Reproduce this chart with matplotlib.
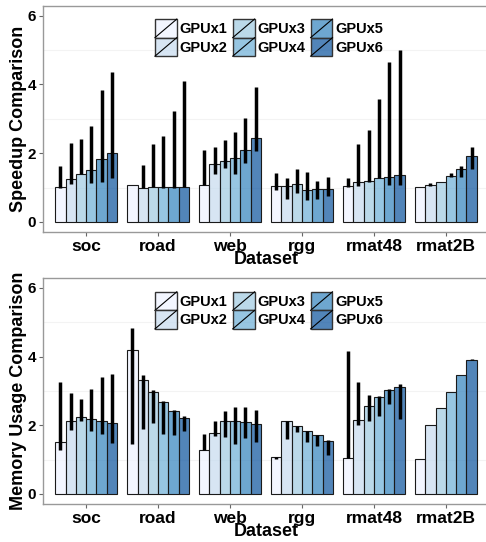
import matplotlib
matplotlib.use("Agg")
import matplotlib.pyplot as plt
import matplotlib.colors as mcolors
import numpy as np
from matplotlib.legend_handler import HandlerBase
from matplotlib.patches import Rectangle
from matplotlib.lines import Line2D

plt.rcParams['font.family'] = ['Liberation Sans', 'DejaVu Sans']
plt.rcParams['font.weight'] = 'bold'

datasets = ["soc", "road", "web", "rgg", "rmat48", "rmat2B"]
gpus = ["GPUx1", "GPUx2", "GPUx3", "GPUx4", "GPUx5", "GPUx6"]
# Blues, 6 classes (ggplot brewer), drawn with alpha 0.7
palette = ["#EFF3FF", "#C6DBEF", "#9ECAE1", "#6BAED6", "#3182BD", "#08519C"]

# speedup: rows = dataset, cols = gpu count
speedup = [
    [1.02, 1.24, 1.40, 1.50, 1.83, 2.02],
    [1.08, 1.00, 1.02, 1.01, 1.02, 1.02],
    [1.07, 1.68, 1.77, 1.85, 2.09, 2.43],
    [1.06, 1.06, 1.11, 0.93, 0.95, 0.97],
    [1.04, 1.17, 1.18, 1.27, 1.30, 1.38],
    [1.01, 1.09, 1.17, 1.34, 1.54, 1.91],
]
speedup_lo = [
    [1.00, 1.10, 1.39, 1.14, 1.15, 1.27],
    [1.08, 0.98, 1.02, 0.98, 0.98, 1.02],
    [1.07, 1.41, 1.56, 1.41, 1.71, 2.05],
    [0.93, 0.68, 0.83, 0.65, 0.66, 0.75],
    [1.02, 1.06, 1.17, 1.27, 1.07, 1.07],
    [1.01, 1.06, 1.17, 1.32, 1.32, 1.53],
]
speedup_hi = [
    [1.63, 2.29, 2.41, 2.78, 3.85, 4.36],
    [1.08, 1.66, 2.26, 2.49, 3.24, 4.09],
    [2.08, 2.18, 2.39, 2.63, 3.02, 3.92],
    [1.43, 1.27, 1.54, 1.46, 1.19, 1.32],
    [1.27, 2.27, 2.68, 3.59, 4.65, 5.00],
    [1.01, 1.14, 1.17, 1.43, 1.63, 2.18],
]

memory = [
    [1.51, 2.13, 2.23, 2.18, 2.14, 2.07],
    [4.20, 3.32, 2.96, 2.68, 2.43, 2.22],
    [1.27, 1.77, 2.12, 2.12, 2.10, 2.04],
    [1.07, 2.14, 1.99, 1.82, 1.71, 1.54],
    [1.05, 2.15, 2.55, 2.83, 3.02, 3.12],
    [1.02, 2.02, 2.50, 2.98, 3.46, 3.91],
]
memory_lo = [
    [1.29, 1.87, 2.12, 1.83, 1.76, 1.49],
    [1.47, 1.90, 2.07, 1.76, 1.71, 1.84],
    [1.29, 1.68, 1.66, 1.47, 1.63, 1.50],
    [1.02, 1.60, 1.80, 1.50, 1.39, 1.13],
    [1.05, 2.00, 2.12, 2.28, 2.61, 2.17],
    [1.02, 2.02, 2.50, 2.98, 3.46, 3.89],
]
memory_hi = [
    [3.27, 2.94, 2.77, 3.07, 3.40, 3.49],
    [4.83, 3.47, 3.04, 2.72, 2.44, 2.26],
    [1.75, 2.12, 2.43, 2.53, 2.52, 2.46],
    [1.08, 2.14, 1.99, 1.82, 1.73, 1.56],
    [4.15, 3.25, 2.88, 2.86, 3.07, 3.21],
    [1.02, 2.02, 2.50, 2.98, 3.46, 3.93],
]


class SlashKey(HandlerBase):
    """ggplot-like legend key: filled box with a diagonal line."""

    def create_artists(self, legend, orig_handle, xdescent, ydescent,
                       width, height, fontsize, trans):
        x0, y0 = -xdescent, -ydescent
        box = Rectangle((x0, y0), width, height,
                        facecolor=orig_handle.get_facecolor(),
                        edgecolor='#333333', lw=1.0, transform=trans)
        slash = Line2D([x0, x0 + width], [y0, y0 + height],
                       color='black', lw=0.8, transform=trans)
        return [box, slash]


def draw_panel(ax, vals, lo, hi, ylabel, legend_y):
    vals = np.array(vals)
    lo = np.array(lo)
    hi = np.array(hi)
    x = np.arange(len(datasets))
    w = 0.857 / len(gpus)
    handles = []
    for j, g in enumerate(gpus):
        xs = x + (j - 2.5) * w
        bars = ax.bar(xs, vals[:, j], width=w,
                      color=mcolors.to_rgba(palette[j], 0.7),
                      edgecolor='#1a1a1a', linewidth=0.8, label=g, zorder=2)
        handles.append(bars.patches[0])
        m = hi[:, j] - lo[:, j] > 0.005
        ax.vlines(xs[m], lo[m, j], hi[m, j], color='black', lw=2.5, zorder=3)

    ax.set_xlim(-0.6, len(datasets) - 0.4)
    ax.set_ylim(-0.3, 6.29)
    ax.set_yticks([0, 2, 4, 6])
    ax.set_xticks(x)
    ax.set_xticklabels(datasets, fontsize=12.5, fontweight='bold')
    for t in ax.get_yticklabels():
        t.set_fontsize(11)
        t.set_fontweight('bold')
    for yy in [1, 3, 5]:
        ax.axhline(yy, color='#f3f3f3', lw=0.8, zorder=0)
    for s in ax.spines.values():
        s.set_color('#999999')
        s.set_linewidth(1.0)
    ax.tick_params(axis='both', colors='#666666', length=3, width=0.8,
                   pad=2, labelcolor='black')
    ax.set_xlabel("Dataset", fontsize=13, fontweight='bold', labelpad=-2)
    ax.set_ylabel(ylabel, fontsize=13, fontweight='bold')
    ax.yaxis.set_label_coords(-0.036, 0.5)

    ax.legend(handles, gpus, handler_map={Rectangle: SlashKey()},
              ncol=3, loc='upper left', bbox_to_anchor=(0.251, legend_y),
              frameon=False, borderpad=0, borderaxespad=0,
              handlelength=1.5, handleheight=1.58,
              handletextpad=0.2, labelspacing=0, columnspacing=0.35,
              prop={'weight': 'bold', 'size': 10.5})


fig = plt.figure(figsize=(4.86, 5.42), dpi=100)
ax1 = fig.add_axes([43 / 486, 1 - 232.3 / 542, 446 / 486, 226.6 / 542])
ax2 = fig.add_axes([43 / 486, 1 - 504.3 / 542, 446 / 486, 226.3 / 542])

draw_panel(ax1, speedup, speedup_lo, speedup_hi, "Speedup Comparison", 0.941)
draw_panel(ax2, memory, memory_lo, memory_hi, "Memory Usage Comparison", 0.939)

fig.savefig("out.png", dpi=100)
